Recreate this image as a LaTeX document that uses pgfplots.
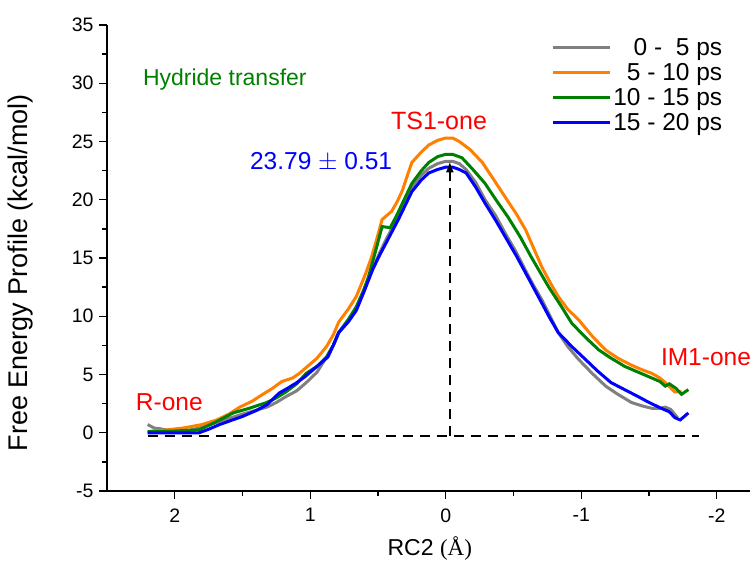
\documentclass[border=0pt]{standalone}
\usepackage{fontspec}
\setmainfont{Liberation Sans}
\newfontfamily\timesf{Liberation Serif}
\usepackage{pgfplots}
\pgfplotsset{compat=1.18}
\usetikzlibrary{arrows.meta}
\definecolor{cgray}{RGB}{128,128,128}
\definecolor{corange}{RGB}{255,127,0}
\definecolor{cgreen}{RGB}{0,128,0}
\definecolor{cblue}{RGB}{0,0,255}
\definecolor{cred}{RGB}{255,0,0}
\begin{document}
\begin{tikzpicture}
\useasboundingbox (-107pt,-79pt) rectangle (648pt,491pt);
\begin{axis}[
  at={(0pt,0pt)}, anchor=south west,
  scale only axis, width=643pt, height=466pt,
  xmin=-2.245, xmax=2.5, x dir=reverse, ymin=-5, ymax=35,
  axis x line*=bottom, axis y line*=left,
  xtick={-2,-1,0,1,2}, minor xtick={-1.5,-0.5,0.5,1.5},
  ytick={-5,0,5,10,15,20,25,30,35}, minor ytick={-2.5,2.5,7.5,12.5,17.5,22.5,27.5,32.5},
  tick align=outside, major tick length=8pt, minor tick length=5pt,
  tick style={black, line width=1.3pt},
  axis line style={black, line width=1.5pt},
  tick label style={font=\fontsize{19.5}{22}\selectfont},
  /pgf/number format/assume math mode=true,
  xticklabel style={yshift=-6pt},
  yticklabel style={xshift=-2pt},
  xlabel={RC2 {\timesf(Å)}}, ylabel={Free Energy Profile (kcal/mol)},
  xlabel style={font=\fontsize{23}{26}\selectfont, at={(axis description cs:0.502,-0.124)}, anchor=center},
  ylabel style={font=\fontsize{27}{30}\selectfont, at={(axis description cs:-0.135,0.468)}, anchor=center},
  legend cell align=right,
  legend style={at={(axis description cs:0.686,0.981)}, anchor=north west, draw=none, fill=none,
    font=\fontsize{24.5}{27}\selectfont, row sep=2.5pt},
  legend image code/.code={\draw[#1] (0pt,0pt) -- (57pt,0pt);},
]
\addplot[cgray, line width=3pt] coordinates {
(2.2,0.7) (2.15,0.4) (2.11,0.35) (2.05,0.2) (1.94,0.1) (1.82,0.4) (1.69,0.9) (1.5,1.6) (1.32,2.2) (1.25,2.6) (1.18,3.1) (1.1,3.6) (1.03,4.3) (0.95,5.2) (0.88,6.5) (0.83,7.5) (0.79,8.6) (0.72,9.7) (0.66,10.8) (0.6,12.4) (0.54,14.0) (0.49,15.4) (0.44,16.6) (0.35,18.6) (0.30,19.9) (0.25,21.1) (0.18,22.1) (0.125,22.7) (0.06,23.1) (0,23.3) (-0.05,23.3) (-0.1,23.1) (-0.15,22.6) (-0.22,21.5) (-0.29,20.0) (-0.37,18.6) (-0.44,17.1) (-0.52,15.5) (-0.59,13.9) (-0.65,12.6) (-0.71,11.4) (-0.77,10.0) (-0.83,8.6) (-0.9,7.4) (-0.98,6.3) (-1.08,5.1) (-1.18,4.0) (-1.27,3.3) (-1.37,2.6) (-1.45,2.3) (-1.52,2.1) (-1.58,2.1) (-1.62,2.2) (-1.66,2.0) (-1.71,1.3)
};
\addlegendentry{0 -\ \ 5 ps}
\addplot[corange, line width=3pt] coordinates {
(2.2,0.1) (2.1,0.2) (1.94,0.4) (1.8,0.7) (1.69,1.1) (1.6,1.6) (1.52,2.2) (1.43,2.7) (1.35,3.3) (1.28,3.8) (1.21,4.4) (1.13,4.7) (1.08,5.1) (1.03,5.6) (0.95,6.4) (0.88,7.4) (0.83,8.4) (0.79,9.5) (0.72,10.6) (0.66,11.7) (0.59,13.7) (0.55,15.0) (0.51,16.6) (0.47,18.3) (0.43,18.7) (0.40,19.0) (0.36,19.8) (0.32,20.8) (0.28,22.2) (0.25,23.2) (0.18,24.1) (0.125,24.7) (0.06,25.1) (0.0,25.3) (-0.05,25.3) (-0.1,25.0) (-0.18,24.3) (-0.27,23.2) (-0.35,21.8) (-0.44,20.2) (-0.52,18.8) (-0.59,17.4) (-0.65,15.8) (-0.71,14.2) (-0.77,12.9) (-0.83,11.7) (-0.9,10.6) (-0.98,9.7) (-1.08,8.3) (-1.18,7.1) (-1.27,6.4) (-1.37,5.8) (-1.45,5.4) (-1.52,5.1) (-1.58,4.7) (-1.62,4.3) (-1.69,3.5) (-1.74,3.5)
};
\addlegendentry{5 - 10 ps}
\addplot[cgreen, line width=3pt] coordinates {
(2.2,0.1) (2.0,0.15) (1.82,0.25) (1.7,0.9) (1.57,1.7) (1.45,2.1) (1.32,2.6) (1.25,3.0) (1.18,3.5) (1.1,4.2) (1.03,5.1) (0.95,5.7) (0.88,6.5) (0.83,7.5) (0.79,8.6) (0.72,9.7) (0.66,10.8) (0.61,12.1) (0.57,13.4) (0.52,15.5) (0.47,17.7) (0.41,17.6) (0.36,18.7) (0.32,19.7) (0.25,21.4) (0.18,22.5) (0.125,23.2) (0.06,23.7) (0,23.9) (-0.05,23.9) (-0.12,23.6) (-0.2,22.6) (-0.29,21.4) (-0.37,20.0) (-0.46,18.5) (-0.55,16.8) (-0.63,15.1) (-0.7,13.7) (-0.76,12.5) (-0.85,10.9) (-0.93,9.4) (-1.03,8.2) (-1.13,7.1) (-1.22,6.4) (-1.32,5.7) (-1.42,5.2) (-1.52,4.7) (-1.58,4.4) (-1.62,4.0) (-1.65,4.2) (-1.7,3.8) (-1.74,3.3) (-1.79,3.7)
};
\addlegendentry{10 - 15 ps}
\addplot[cblue, line width=3pt] coordinates {
(2.2,0.0) (2.01,0.0) (1.82,0.0) (1.75,0.3) (1.67,0.7) (1.5,1.4) (1.4,1.9) (1.32,2.4) (1.23,3.4) (1.17,3.8) (1.10,4.3) (1.04,4.8) (0.98,5.4) (0.87,6.5) (0.83,7.5) (0.79,8.6) (0.72,9.5) (0.66,10.5) (0.6,12.2) (0.54,14.0) (0.49,15.2) (0.44,16.3) (0.35,18.3) (0.3,19.5) (0.25,20.7) (0.18,21.7) (0.125,22.3) (0.06,22.6) (0,22.8) (-0.05,22.8) (-0.1,22.6) (-0.15,22.3) (-0.22,21.1) (-0.29,19.7) (-0.37,18.2) (-0.44,16.8) (-0.52,15.2) (-0.59,13.7) (-0.65,12.4) (-0.71,11.1) (-0.77,9.8) (-0.83,8.6) (-0.93,7.4) (-1.03,6.3) (-1.12,5.3) (-1.22,4.3) (-1.32,3.7) (-1.42,3.1) (-1.5,2.6) (-1.59,2.1) (-1.65,1.8) (-1.69,1.3) (-1.73,1.1) (-1.79,1.7)
};
\addlegendentry{15 - 20 ps}
\addplot[black, line width=2pt, dash pattern=on 10pt off 7pt, forget plot] coordinates {(2.2,-0.3) (-1.87,-0.3)};
\addplot[black, line width=2pt, dash pattern=on 10pt off 7pt, -{Latex[length=11pt,width=8pt]}, forget plot] coordinates {(-0.03,-0.3) (-0.03,23.3)};
\node[cgreen, font=\fontsize{23}{26}\selectfont, anchor=west] at (axis cs:2.26,30.3) {Hydride transfer};
\node[cred, font=\fontsize{25}{28}\selectfont] at (axis cs:0.05,26.8) {TS1-one};
\node[cblue, font=\fontsize{24.5}{28}\selectfont] at (axis cs:0.92,23.2) {23.79 $\pm$ 0.51};
\node[cred, font=\fontsize{24.5}{28}\selectfont] at (axis cs:2.04,2.6) {R-one};
\node[cred, font=\fontsize{24.5}{28}\selectfont] at (axis cs:-1.92,6.5) {IM1-one};
\end{axis}
\end{tikzpicture}
\end{document}
